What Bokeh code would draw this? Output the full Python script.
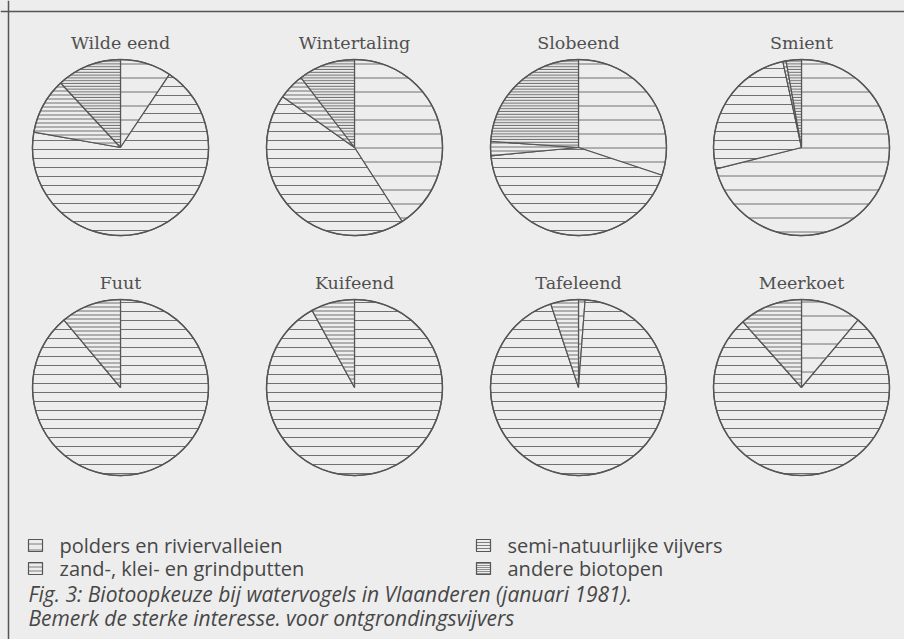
import numpy as np
from bokeh.plotting import figure, ColumnDataSource
from bokeh.models import Range1d, Span
from bokeh.core.properties import value
from bokeh.embed import file_html
from bokeh.resources import INLINE

# ---------------- data ----------------
species = ["Wilde eend", "Wintertaling", "Slobeend", "Smient",
           "Fuut", "Kuifeend", "Tafeleend", "Meerkoet"]
categories = ["polders en riviervalleien", "zand-, klei- en grindputten",
              "semi-natuurlijke vijvers", "andere biotopen"]
polders = [9.4, 40.9, 30.1, 71.1, 0.0, 0.0, 1.2, 11.1]
zand    = [68.4, 43.9, 43.4, 25.5, 88.9, 92.0, 93.7, 77.3]
semi    = [10.3, 4.8, 2.6, 0.6, 11.1, 8.0, 5.1, 11.6]
andere  = [11.9, 10.4, 23.9, 2.8, 0.0, 0.0, 0.0, 0.0]
caption1 = "Fig. 3: Biotoopkeuze bij watervogels in Vlaanderen (januari 1981)."
caption2 = "Bemerk de sterke interesse. voor ontgrondingsvijvers"

# ---------------- style / layout ----------------
W, H = 904, 639
BG = "#ededed"
LINE = "#555555"
HATCH = "#707070"
TXT = "#474747"
hatch_scale = [14, 9, 4, 2.8]
hatch_weight = [1.0, 1.0, 1.0, 1.3]
legend_scale = [6, 4, 3, 2]
legend_weight = [0.9, 0.9, 0.9, 1.5]

col_x = [120, 354, 578, 801]      # page x
row_y = [147, 387]                # page y from top
R = 88

def fy(y_from_top):
    return H - y_from_top

p = figure(width=W, height=H, output_backend="svg", toolbar_location=None,
           x_range=Range1d(0, W), y_range=Range1d(0, H),
           min_border=0, min_border_left=0, min_border_right=0,
           min_border_top=0, min_border_bottom=0)
p.axis.visible = False
p.grid.visible = False
p.outline_line_color = None
p.background_fill_color = BG
p.border_fill_color = BG

# frame lines
p.add_layout(Span(location=fy(11), dimension="width", line_color=LINE, line_width=1.5))
p.add_layout(Span(location=8, dimension="height", line_color=LINE, line_width=1.5))

# ---------------- pies ----------------
series = [polders, zand, semi, andere]
wx, wy, ws, we, wsc, wwt = [], [], [], [], [], []
cx, cy, tx, ty = [], [], [], []
for i, name in enumerate(species):
    x = col_x[i % 4]
    y = fy(row_y[i // 4])
    cx.append(x); cy.append(y)
    tx.append(x); ty.append(y + R + 17)
    total = sum(s[i] for s in series)
    cum = 0.0
    for k, s in enumerate(series):
        v = s[i]
        if v <= 0:
            continue
        a0 = np.pi / 2 - 2 * np.pi * cum / total
        cum += v
        a1 = np.pi / 2 - 2 * np.pi * cum / total
        wx.append(x); wy.append(y); ws.append(a0); we.append(a1)
        wsc.append(hatch_scale[k]); wwt.append(hatch_weight[k])

wsrc = ColumnDataSource(dict(x=wx, y=wy, s=ws, e=we, sc=wsc, wt=wwt))
p.wedge(x="x", y="y", radius=R, start_angle="s", end_angle="e", direction="clock",
        source=wsrc, fill_color=BG, line_color=LINE, line_width=1.2,
        hatch_pattern="horizontal_line", hatch_scale="sc", hatch_weight="wt",
        hatch_color=HATCH)
p.circle(x=cx, y=cy, radius=R, fill_color=None, line_color=LINE, line_width=1.4)

p.text(x=tx, y=ty, text=species, text_align="center", text_baseline="middle",
       text_font=value("DejaVu Serif"), text_font_size="17.5px", text_color="#505050")

# ---------------- legend ----------------
leg_x = [28, 28, 476, 476]
leg_y = [fy(545), fy(568), fy(545), fy(568)]
lsrc = ColumnDataSource(dict(x=[v + 7 for v in leg_x], y=leg_y,
                             sc=legend_scale, wt=legend_weight))
p.rect(x="x", y="y", width=14, height=12, source=lsrc, fill_color=BG,
       line_color=LINE, line_width=1.2, hatch_pattern="horizontal_line",
       hatch_scale="sc", hatch_weight="wt", hatch_color=HATCH)
p.text(x=[v + 31 for v in leg_x], y=leg_y, text=categories, text_baseline="middle",
       text_font=value("Open Sans"), text_font_size="20px", text_color=TXT)

# ---------------- caption ----------------
p.text(x=[28, 28], y=[fy(593), fy(617)], text=[caption1, caption2],
       text_baseline="middle", text_font=value("Open Sans"),
       text_font_style="italic", text_font_size="21px", text_color=TXT)

html = file_html(p, INLINE)
html = html.replace("<head>", "<head><style>body{background:#ededed;}</style>", 1)
open("out.html", "w").write(html)
